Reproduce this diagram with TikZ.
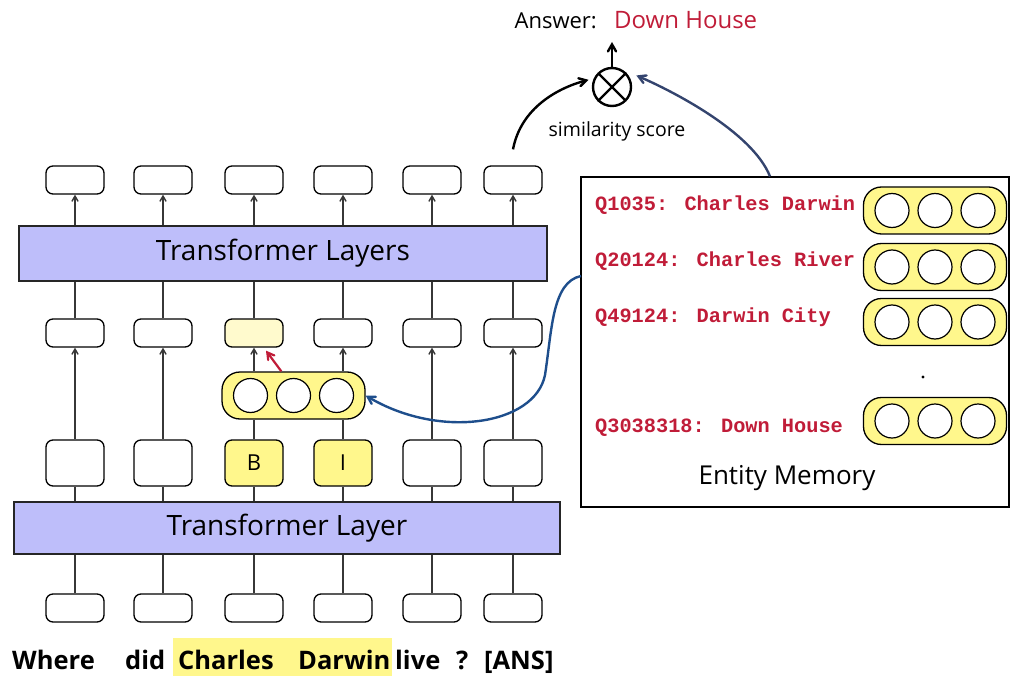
\documentclass[tikz,border=0pt]{standalone}
\usepackage{fontspec}
\setmainfont{Open Sans}
\newfontfamily\qidfont{Liberation Mono}
\usetikzlibrary{arrows}

\definecolor{tlblue}{RGB}{190,190,250}
\definecolor{vecyellow}{RGB}{255,247,140}
\definecolor{paleyellow}{RGB}{255,250,205}
\definecolor{qred}{RGB}{192,28,56}
\definecolor{navy}{RGB}{52,68,110}
\definecolor{linkblue}{RGB}{30,78,140}
\definecolor{wiregray}{RGB}{55,55,55}

\tikzset{
  tok/.style={draw,rounded corners=7pt,line width=1.3pt,fill=white,
    minimum width=58pt,minimum height=28pt,inner sep=0pt},
  tag/.style={tok,minimum height=46pt,font=\fontsize{22}{24}\selectfont},
  layer/.style={draw=black!85,fill=tlblue,line width=1.3pt,inner sep=0pt,
    font=\fontsize{28}{30}\selectfont},
  vecbox/.style={draw,fill=vecyellow,rounded corners=18pt,line width=1.3pt,
    minimum width=143pt,minimum height=47pt,inner sep=0pt},
  slot/.style={draw,circle,fill=white,line width=1.2pt,minimum size=34pt,inner sep=0pt},
  wire/.style={draw=wiregray,line width=1.4pt},
  feed/.style={wire,->,>=angle 60},
  curvy/.style={line width=2.4pt,->,>=angle 60},
  qid/.style={anchor=west,text=qred,inner sep=0pt,
    font=\qidfont\bfseries\fontsize{20.3}{22}\selectfont},
  word/.style={anchor=base west,inner sep=0pt,font=\bfseries\fontsize{25.5}{28}\selectfont},
}

% yellow embedding with three slots
\newcommand{\slotvec}[2]{%
  \node[vecbox] (#1) at (#2) {};
  \foreach \k/\dx in {1/-43,2/0,3/43}
    \node[slot] (#1-\k) at ([xshift=\dx pt]#1.center) {};
}

\begin{document}
\begin{tikzpicture}[x=1pt,y=-1pt]
  \useasboundingbox (0,0) rectangle (1011,676);

  % question words
  \fill[vecyellow] (173,638) rectangle (392,676);
  \node[word] (w1) at (12,669) {Where};
  \node[word] (w2) at (125,669) {did};
  \node[word] (w3) at (178,669) {Charles};
  \node[word] (w4) at (298,669) {Darwin};
  \node[word] (w5) at (395,669) {live};
  \node[word] (w6) at (456,669) {?};
  \node[word] (w7) at (484,669) {[ANS]};

  % layers
  \node[layer,minimum width=546pt,minimum height=52pt] (tlone) at (287,528) {Transformer Layer};
  \node[layer,minimum width=528pt,minimum height=55pt] (tlmany) at (283,253.5) {Transformer Layers};

  % token boxes
  \foreach \i/\x/\f in {1/75/white,2/163/white,3/254/paleyellow,4/343/white,5/432/white,6/513/white} {
    \node[tok] (d\i) at (\x,608) {};
    \node[tok,fill=\f] (b\i) at (\x,333) {};
    \node[tok] (a\i) at (\x,180) {};
  }
  \node[tag,fill=vecyellow] (c3) at (254,463) {B};
  \node[tag,fill=vecyellow] (c4) at (343,463) {I};
  \foreach \i/\x in {1/75,2/163,5/432,6/513}
    \node[tag] (c\i) at (\x,463) {};

  % mention embedding
  \slotvec{ev}{293.5,395.5}

  % wires
  \foreach \i in {1,...,6} {
    \draw[wire] (d\i.north) -- (d\i.north |- tlone.south);
    \draw[wire] (c\i.south |- tlone.north) -- (c\i.south);
    \draw[wire] (b\i.north) -- (b\i.north |- tlmany.south);
    \draw[feed] (a\i.south |- tlmany.north) -- (a\i.south);
  }
  \foreach \i in {1,2,5,6}
    \draw[feed] (c\i.north) -- (b\i.south);
  \foreach \i in {3,4} {
    \draw[wire] (c\i.north) -- (c\i.north |- ev.south);
    \draw[feed] (b\i.south |- ev.north) -- (b\i.south);
  }
  \draw[qred,line width=2.2pt,->,>=angle 60] ([xshift=60pt]ev.north west) -- ([xshift=12pt,yshift=-3pt]b3.south);

  % entity memory
  \node[draw,line width=1.2pt,minimum width=428pt,minimum height=330pt,inner sep=0pt] (mem) at (795,342) {};
  \node[qid] (q1) at (595,205) {Q1035: Charles Darwin};
  \node[qid] (q2) at (595,261) {Q20124: Charles River};
  \node[qid] (q3) at (595,317) {Q49124: Darwin City};
  \node[qid] (q4) at (595,428) {Q3038318: Down House};
  \slotvec{m1}{935,210.5}
  \slotvec{m2}{935,267}
  \slotvec{m3}{935,322}
  \slotvec{m4}{935,421}
  \fill (923,377) circle (1.6pt);
  \node[font=\fontsize{26}{28}\selectfont] (memlbl) at (787,478) {Entity Memory};

  % scoring
  \node[circle,draw,line width=2.4pt,minimum size=38pt,inner sep=0pt] (sim) at (612,87) {};
  \draw[line width=2.4pt,shorten <=1pt,shorten >=1pt] (sim.45) -- (sim.225) (sim.135) -- (sim.315);
  \node[font=\fontsize{19.5}{21}\selectfont] (simlbl) at (617,131) {similarity score};
  \node[anchor=base east,inner sep=0pt,font=\fontsize{22}{24}\selectfont] (ans) at (597,29) {Answer:};
  \node[anchor=base west,inner sep=0pt,text=qred,font=\fontsize{24}{26}\selectfont] (dh) at (614,29) {Down House};
  \coordinate (anstip) at (612,42);
  \draw[curvy] (sim.north) -- (anstip);

  \draw[curvy] ([yshift=16pt]a6.north) .. controls +(8,-42) and +(-30,8) .. ([shift={(-4pt,2pt)}]sim.165);
  \draw[curvy,navy] ([xshift=-25pt]mem.north) .. controls +(-18,-45) and +(35,15) .. ([shift={(6pt,3pt)}]sim.25);
  \coordinate (memout) at (581,276);
  \draw[curvy,linkblue] (memout) .. controls (552,282) and (552,330) .. (545,375)
    .. controls (535,425) and (440,440) .. (ev.east);
\end{tikzpicture}
\end{document}
